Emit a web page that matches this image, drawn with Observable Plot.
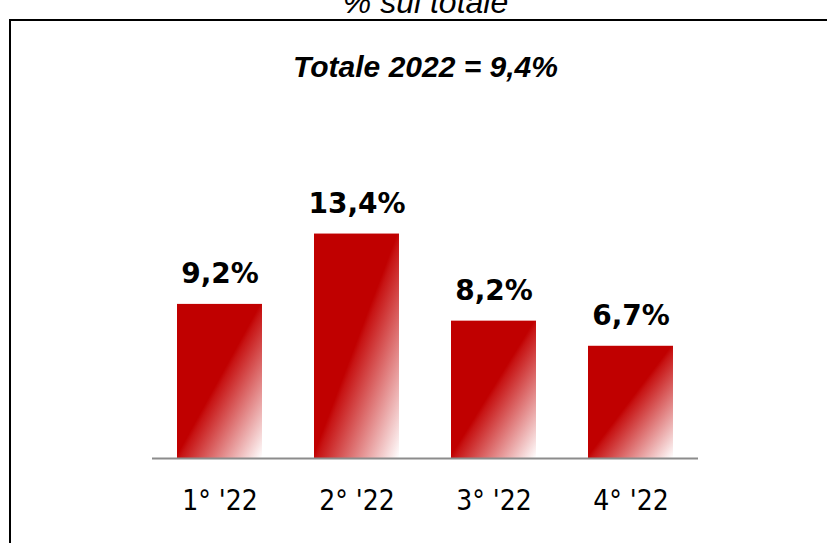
<!DOCTYPE html>
<html>
<head>
<meta charset="utf-8">
<script src="https://cdn.jsdelivr.net/npm/d3@7"></script>
<script src="https://cdn.jsdelivr.net/npm/@observablehq/plot@0.6"></script>
<style>
  html, body { margin: 0; padding: 0; background: #fff; overflow: hidden; }
  #wrap { position: relative; width: 827px; height: 543px; }
  #frame { position: absolute; left: 9px; top: 19px; width: 900px; height: 600px;
           border-left: 2px solid #000; border-top: 2px solid #000; pointer-events: none; }
</style>
</head>
<body>
<div id="wrap"><div id="frame"></div></div>
<script>
const subtitle = "% sul totale";
const title = "Totale 2022 = 9,4%";
const quarters = ["1° '22", "2° '22", "3° '22", "4° '22"];
const values = [9.2, 13.4, 8.2, 6.7];
const valueLabels = ["9,2%", "13,4%", "8,2%", "6,7%"];

const data = quarters.map((q, i) => ({q, v: values[i], label: valueLabels[i]}));

const chart = Plot.plot({
  width: 827,
  height: 543,
  marginLeft: 152,
  marginRight: 129,
  marginTop: 123,
  marginBottom: 85,
  style: {background: "transparent"},
  x: {domain: quarters, paddingInner: 0.38, paddingOuter: 0.18, label: null},
  y: {domain: [0, 20], axis: null},
  marks: [
    Plot.barY(data, {x: "q", y: "v", fill: "url(#barGrad)"}),
    Plot.ruleY([0], {stroke: "#8c8c8c", strokeWidth: 2}),
    Plot.axisX({tickSize: 0, tickPadding: 32, fontSize: 28, fontFamily: "'DejaVu Sans Condensed', 'DejaVu Sans', sans-serif", fill: "#000", label: null}),
    Plot.text(data, {x: "q", y: "v", text: "label", dy: -30, fontSize: 28, fontWeight: "bold", fontFamily: "'DejaVu Sans', Verdana, sans-serif", fill: "#000"}),
    Plot.text([title], {frameAnchor: "top", dy: -68, fontSize: 30, fontWeight: "bold", fontStyle: "italic", fontFamily: "'Liberation Sans Narrow', 'Liberation Sans', Arial, sans-serif", fill: "#000"}),
    Plot.text([subtitle], {frameAnchor: "top", dy: -133, fontSize: 32, fontStyle: "italic", fontFamily: "'Liberation Sans Narrow', 'Liberation Sans', Arial, sans-serif", fill: "#000"})
  ]
});

const defs = d3.create("svg:defs");
const grad = defs.append("linearGradient").attr("id", "barGrad")
  .attr("x1", 0).attr("y1", 0).attr("x2", 1).attr("y2", 1);
grad.append("stop").attr("offset", "0").attr("stop-color", "#c00000");
grad.append("stop").attr("offset", "0.49").attr("stop-color", "#c00000");
grad.append("stop").attr("offset", "0.52").attr("stop-color", "#c71414");
grad.append("stop").attr("offset", "1").attr("stop-color", "#ffffff");
chart.insertBefore(defs.node(), chart.firstChild);

const wrap = document.getElementById("wrap");
wrap.insertBefore(chart, wrap.firstChild);
</script>
</body>
</html>
